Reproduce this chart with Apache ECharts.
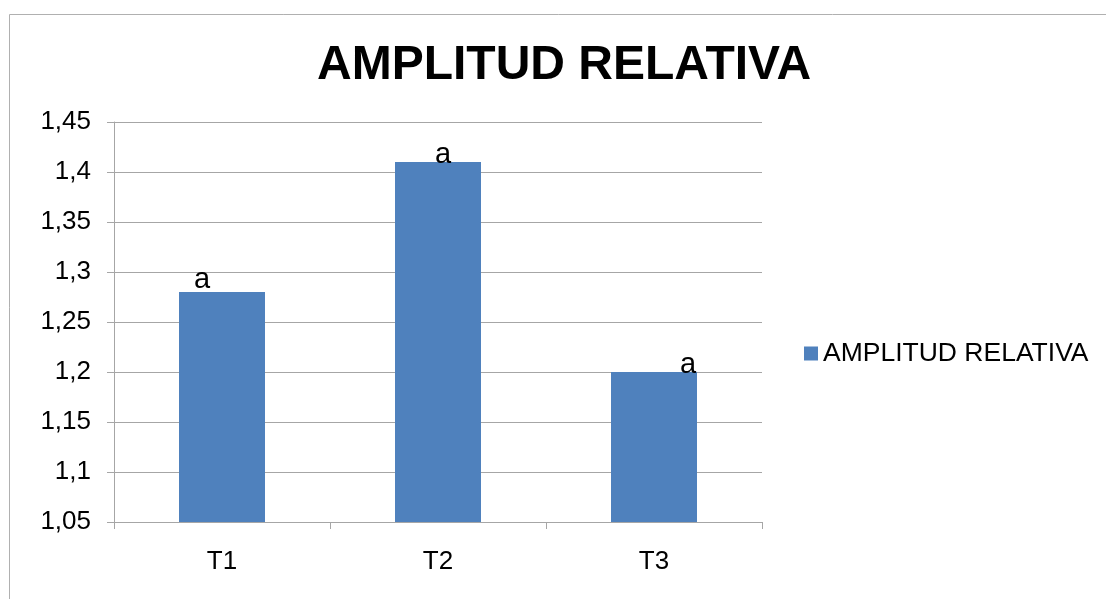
<!DOCTYPE html>
<html>
<head>
<meta charset="utf-8">
<script src="https://cdn.jsdelivr.net/npm/echarts@6/dist/echarts.min.js"></script>
<style>
html,body{margin:0;padding:0;background:#fff;}
#c{width:1106px;height:599px;}
</style>
</head>
<body>
<div id="c"></div>
<script>
var categories = ['T1', 'T2', 'T3'];
var seriesName = 'AMPLITUD RELATIVA';
var values = [1.28, 1.41, 1.20];
var letters = ['a', 'a', 'a'];
var yMin = 1.05, yMax = 1.45, yStep = 0.05;

// per-bar label nudges (style only)
var labelOffsets = [[-20, 2], [5, 7], [34, 7]];

var chart = echarts.init(document.getElementById('c'), null, {renderer: 'canvas'});
var FONT = '"Liberation Sans", Arial, sans-serif';
var GRID = '#a6a6a6';

chart.setOption({
  animation: false,
  backgroundColor: '#ffffff',
  textStyle: {fontFamily: FONT, color: '#000'},
  title: {
    text: 'AMPLITUD RELATIVA',
    left: 312, top: 37,
    textStyle: {fontFamily: FONT, fontSize: 48, fontWeight: 'bold', color: '#000'}
  },
  graphic: [{
    type: 'rect', silent: true,
    shape: {x: 9.5, y: 14.5, width: 1200, height: 700},
    style: {fill: 'none', stroke: '#b0b0b0', lineWidth: 1}
  }],
  legend: {
    left: 799, top: 335,
    icon: 'rect', itemWidth: 14, itemHeight: 14, itemGap: 7,
    textStyle: {fontFamily: FONT, fontSize: 26.5, color: '#000'},
    data: [seriesName]
  },
  grid: {left: 114, right: 344, top: 122, bottom: 77, containLabel: false},
  xAxis: {
    type: 'category',
    data: categories,
    boundaryGap: true,
    axisLine: {show: true, lineStyle: {color: GRID, width: 1}},
    axisTick: {show: true, length: 7, alignWithLabel: false, lineStyle: {color: GRID}},
    axisLabel: {fontFamily: FONT, fontSize: 26, color: '#000', margin: 27}
  },
  yAxis: {
    type: 'value',
    min: yMin, max: yMax, interval: yStep,
    axisLine: {show: true, lineStyle: {color: GRID, width: 1}},
    axisTick: {show: true, length: 7, lineStyle: {color: GRID}},
    splitLine: {show: true, lineStyle: {color: GRID, width: 1}},
    axisLabel: {
      fontFamily: FONT, fontSize: 26, color: '#000', margin: 23,
      padding: [3, 0, 0, 0],
      formatter: function (v) { return String(Number(v.toFixed(2))).replace('.', ','); }
    }
  },
  series: [{
    name: seriesName,
    type: 'bar',
    barWidth: 86,
    itemStyle: {color: '#4f81bd'},
    data: values.map(function (v, i) {
      return {
        value: v,
        label: {
          show: true, position: 'top', distance: 0,
          offset: labelOffsets[i],
          formatter: letters[i],
          fontFamily: FONT, fontSize: 29, color: '#000'
        }
      };
    })
  }]
});
</script>
</body>
</html>
